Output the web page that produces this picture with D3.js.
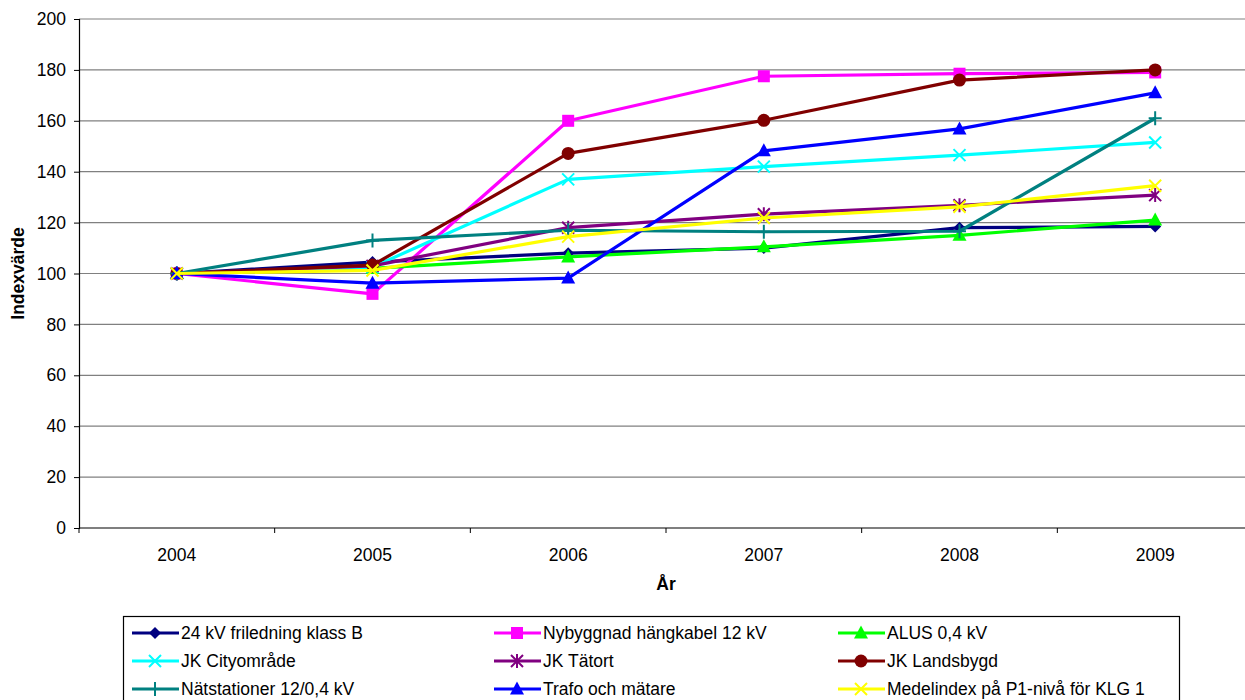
<!DOCTYPE html>
<html>
<head>
<meta charset="utf-8">
<script src="https://cdn.jsdelivr.net/npm/d3@7/dist/d3.min.js"></script>
<style>
  html, body { margin: 0; padding: 0; background: #fff; }
  svg { display: block; font-family: "Liberation Sans", Arial, sans-serif; }
</style>
</head>
<body>
<svg id="chart" width="1245" height="700"></svg>
<script>
// Years on the category axis
const years = ["2004", "2005", "2006", "2007", "2008", "2009"];

// Index values per series (2004 = 100)
const friledning   = [100, 104.5, 108, 110, 118, 118.5];
const hangkabel    = [100, 92, 160, 177.5, 178.5, 179];
const alus         = [100, 102, 106.5, 110.5, 115, 121];
const cityomrade   = [100, 102.5, 137, 142, 146.5, 151.5];
const tatort       = [100, 103, 118, 123.3, 126.8, 130.8];
const landsbygd    = [100, 103.3, 147.2, 160.2, 176, 180];
const natstationer = [100, 113, 117, 116.4, 116.6, 161];
const trafo        = [100, 96.2, 98.2, 148.2, 156.8, 171];
const medelindex   = [100, 101.2, 114.5, 121.8, 126.2, 134.5];

const seriesNames = [
  "24 kV friledning klass B",
  "Nybyggnad hängkabel 12 kV",
  "ALUS 0,4 kV",
  "JK Cityområde",
  "JK Tätort",
  "JK Landsbygd",
  "Nätstationer 12/0,4 kV",
  "Trafo och mätare",
  "Medelindex på P1-nivå för KLG 1"
];
const seriesValues = [friledning, hangkabel, alus, cityomrade, tatort, landsbygd, natstationer, trafo, medelindex];
const seriesColors = ["#000080", "#FF00FF", "#00FF00", "#00FFFF", "#800080", "#800000", "#008080", "#0000FF", "#FFFF00"];
const seriesMarkers = ["diamond", "square", "triangle", "cross", "star", "circle", "plus", "triangle", "cross"];

const yTicks = [0, 20, 40, 60, 80, 100, 120, 140, 160, 180, 200];

const FONT = "'Liberation Sans', Arial, sans-serif";
const FS = 17.5;

const svg = d3.select("#chart");

const plot = { left: 79, top: 19, bottom: 528, width: 1174 };

const x = d3.scaleBand().domain(years).range([plot.left, plot.left + plot.width]).paddingInner(0).paddingOuter(0);
const y = d3.scaleLinear().domain([0, 200]).range([plot.bottom, plot.top]);
const cx = d => x(d) + x.bandwidth() / 2;

// Horizontal grid lines
svg.append("g")
  .selectAll("line")
  .data(yTicks.filter(t => t > 0))
  .join("line")
  .attr("x1", plot.left).attr("x2", 1245)
  .attr("y1", d => y(d)).attr("y2", d => y(d))
  .attr("stroke", "#808080").attr("stroke-width", 1.2);

// Y axis
const yAxis = svg.append("g")
  .attr("transform", `translate(${plot.left},0)`)
  .call(d3.axisLeft(y).tickValues(yTicks).tickSize(5).tickPadding(8));
yAxis.select(".domain").attr("stroke", "#000").attr("stroke-width", 1.2);
yAxis.selectAll(".tick line").attr("stroke", "#000");
yAxis.selectAll("text").attr("font-size", FS).attr("fill", "#000").style("font-family", FONT);

// X axis: labels centred in each category, ticks on category boundaries
const xAxis = svg.append("g")
  .attr("transform", `translate(0,${plot.bottom})`)
  .call(d3.axisBottom(x).tickSize(0).tickPadding(21));
xAxis.select(".domain").remove();
xAxis.append("line")
  .attr("x1", plot.left).attr("x2", 1245).attr("y1", 0).attr("y2", 0)
  .attr("stroke", "#000").attr("stroke-width", 1.2);
xAxis.selectAll("text").attr("font-size", FS).attr("fill", "#000").style("font-family", FONT);
xAxis.append("g").selectAll("line")
  .data(years)
  .join("line")
  .attr("x1", d => x(d)).attr("x2", d => x(d))
  .attr("y1", 0).attr("y2", 5)
  .attr("stroke", "#000");

// Axis titles
svg.append("text")
  .attr("transform", `translate(24,${(plot.top + plot.bottom) / 2}) rotate(-90)`)
  .attr("text-anchor", "middle")
  .attr("font-size", FS).attr("font-weight", "bold")
  .text("Indexvärde");
svg.append("text")
  .attr("x", 666).attr("y", 590)
  .attr("text-anchor", "middle")
  .attr("font-size", FS).attr("font-weight", "bold")
  .text("År");

// Marker drawing
function drawMarker(g, type, color, px, py) {
  const s = 6;
  if (type === "diamond") {
    g.append("path").attr("d", `M${px},${py - s}L${px + s},${py}L${px},${py + s}L${px - s},${py}Z`).attr("fill", color);
  } else if (type === "square") {
    g.append("rect").attr("x", px - 6).attr("y", py - 6).attr("width", 12).attr("height", 12).attr("fill", color);
  } else if (type === "triangle") {
    g.append("path").attr("d", `M${px},${py - 7.5}L${px + 7},${py + 5.5}L${px - 7},${py + 5.5}Z`).attr("fill", color);
  } else if (type === "circle") {
    g.append("circle").attr("cx", px).attr("cy", py).attr("r", 6.5).attr("fill", color);
  } else if (type === "cross") {
    g.append("path").attr("d", `M${px - s},${py - s}L${px + s},${py + s}M${px - s},${py + s}L${px + s},${py - s}`)
      .attr("stroke", color).attr("stroke-width", 2).attr("fill", "none");
  } else if (type === "star") {
    g.append("path").attr("d", `M${px - s},${py - s}L${px + s},${py + s}M${px - s},${py + s}L${px + s},${py - s}M${px},${py - 7}L${px},${py + 7}`)
      .attr("stroke", color).attr("stroke-width", 2).attr("fill", "none");
  } else if (type === "plus") {
    g.append("path").attr("d", `M${px - 6.5},${py}L${px + 6.5},${py}M${px},${py - 7}L${px},${py + 7}`)
      .attr("stroke", color).attr("stroke-width", 2).attr("fill", "none");
  }
}

// Series lines and markers
const line = d3.line().x((d, i) => cx(years[i])).y(d => y(d));
seriesValues.forEach((vals, si) => {
  const g = svg.append("g");
  g.append("path")
    .attr("d", line(vals))
    .attr("fill", "none")
    .attr("stroke", seriesColors[si])
    .attr("stroke-width", 3.2)
    .attr("stroke-linejoin", "round");
  vals.forEach((v, i) => drawMarker(g, seriesMarkers[si], seriesColors[si], cx(years[i]), y(v)));
});

// Legend
const legend = svg.append("g");
legend.append("rect")
  .attr("x", 123.5).attr("y", 616.5).attr("width", 1056).attr("height", 100)
  .attr("fill", "#fff").attr("stroke", "#000").attr("stroke-width", 1.2);
const colX = [132, 494, 838];
const rowY = [633, 661, 689];
seriesNames.forEach((name, i) => {
  const lx = colX[i % 3], ly = rowY[Math.floor(i / 3)];
  const item = legend.append("g");
  item.append("line").attr("x1", lx).attr("x2", lx + 47).attr("y1", ly).attr("y2", ly)
    .attr("stroke", seriesColors[i]).attr("stroke-width", 3.2);
  drawMarker(item, seriesMarkers[i], seriesColors[i], lx + 23, ly);
  item.append("text").attr("x", lx + 49).attr("y", ly + 6)
    .attr("font-size", FS).attr("fill", "#000")
    .text(name);
});
</script>
</body>
</html>
